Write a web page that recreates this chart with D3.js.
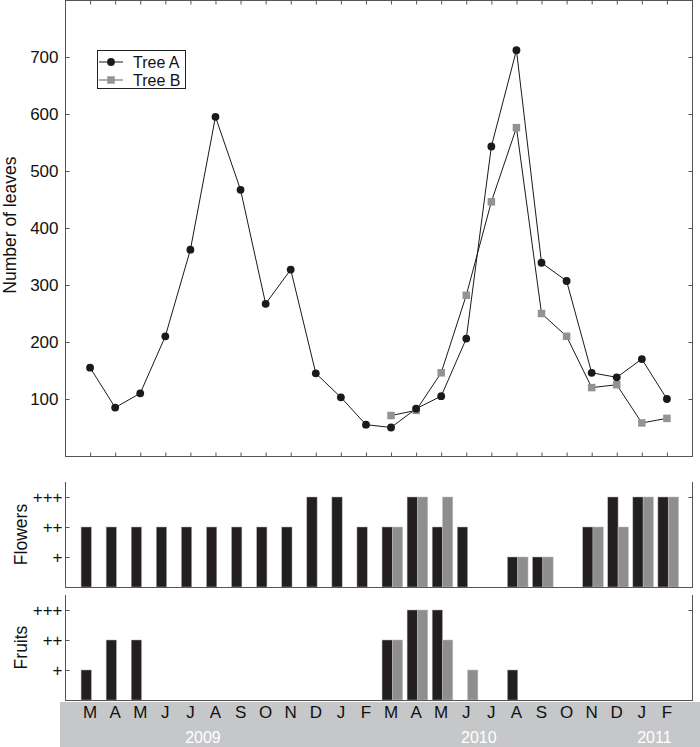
<!DOCTYPE html>
<html>
<head>
<meta charset="utf-8">
<script src="https://cdn.jsdelivr.net/npm/d3@7"></script>
<style>
html,body{margin:0;padding:0;background:#fff;}
svg{display:block;font-family:"Liberation Sans",Arial,Helvetica,sans-serif;}
</style>
</head>
<body>
<svg id="chart" width="700" height="747"></svg>
<script>
// ---- data ----
const months = ["M","A","M","J","J","A","S","O","N","D","J","F","M","A","M","J","J","A","S","O","N","D","J","F"];
const years = [
  {label:"2009", first:0, last:9},
  {label:"2010", first:10, last:21},
  {label:"2011", first:22, last:23}
];
const leavesA = [155,85,110,210,362,595,467,267,327,145,103,55,50,83,105,206,543,712,339,307,146,138,170,100];
const leavesB = [null,null,null,null,null,null,null,null,null,null,null,null,71,80,146,282,446,576,250,210,120,125,58,66];
const flowersA = [2,2,2,2,2,2,2,2,2,3,3,2,2,3,2,2,0,1,1,0,2,3,3,3];
const flowersB = [null,null,null,null,null,null,null,null,null,null,null,null,2,3,3,0,0,1,1,0,2,2,3,3];
const fruitsA = [1,2,2,0,0,0,0,0,0,0,0,0,2,3,3,0,0,1,0,0,0,0,0,0];
const fruitsB = [null,null,null,null,null,null,null,null,null,null,null,null,2,3,2,1,0,0,0,0,0,0,0,0];
const leafTicks = [100,200,300,400,500,600,700];
const levelTicks = [1,2,3];
const levelLabels = ["+","++","+++"];

// ---- layout ----
const svg = d3.select("#chart");
const L = 65, R = 692;
const axisCol = "#555";
const fs = 17;
const x = d3.scalePoint().domain(d3.range(months.length)).range([L, R]).padding(1);

// Top panel
const yTop = d3.scaleLinear().domain([0, 800]).range([456, 0]);
const gTop = svg.append("g");

gTop.append("line").attr("x1",L).attr("x2",R).attr("y1",0.5).attr("y2",0.5).attr("stroke",axisCol);
gTop.append("line").attr("x1",L).attr("x2",R).attr("y1",456.5).attr("y2",456.5).attr("stroke",axisCol);
gTop.append("line").attr("x1",L+0.5).attr("x2",L+0.5).attr("y1",0).attr("y2",457).attr("stroke",axisCol);
gTop.append("line").attr("x1",R+0.5).attr("x2",R+0.5).attr("y1",0).attr("y2",457).attr("stroke",axisCol);

const yAxisL = d3.axisLeft(yTop).tickValues(leafTicks).tickSizeInner(-4).tickSizeOuter(0).tickPadding(7);
const gyl = gTop.append("g").attr("transform",`translate(${L+0.5},0)`).call(yAxisL);
gyl.select(".domain").remove();
gyl.selectAll("line").attr("stroke",axisCol);
gyl.selectAll("text").attr("font-size",fs).attr("fill","#111").attr("font-family","Liberation Sans, Arial, sans-serif");

const yAxisR = d3.axisRight(yTop).tickValues(leafTicks).tickSizeInner(-4).tickSizeOuter(0).tickFormat("");
const gyr = gTop.append("g").attr("transform",`translate(${R+0.5},0)`).call(yAxisR);
gyr.select(".domain").remove();
gyr.selectAll("line").attr("stroke",axisCol);

const xAxisB = d3.axisBottom(x).tickSizeInner(-4).tickSizeOuter(0).tickFormat("");
const gxb = gTop.append("g").attr("transform",`translate(0,456.5)`).call(xAxisB);
gxb.select(".domain").remove();
gxb.selectAll("line").attr("stroke",axisCol);
const xAxisT = d3.axisTop(x).tickSizeInner(-4).tickSizeOuter(0).tickFormat("");
const gxt = gTop.append("g").attr("transform",`translate(0,0.5)`).call(xAxisT);
gxt.select(".domain").remove();
gxt.selectAll("line").attr("stroke",axisCol);

gTop.append("text").attr("transform",`translate(16,${yTop(405)}) rotate(-90)`)
  .attr("text-anchor","middle").attr("font-size",17.5).attr("fill","#111").text("Number of leaves");

const line = d3.line().defined(d => d.v != null).x(d => x(d.i)).y(d => yTop(d.v));
const dA = leavesA.map((v,i)=>({i,v}));
const dB = leavesB.map((v,i)=>({i,v}));
gTop.append("path").datum(dB).attr("d",line).attr("fill","none").attr("stroke","#1a1a1a").attr("stroke-width",1);
gTop.append("path").datum(dA).attr("d",line).attr("fill","none").attr("stroke","#1a1a1a").attr("stroke-width",1);
const sq = 7.5;
gTop.selectAll("rect.b").data(dB.filter(d=>d.v!=null)).join("rect").attr("class","b")
  .attr("x",d=>x(d.i)-sq/2).attr("y",d=>yTop(d.v)-sq/2).attr("width",sq).attr("height",sq).attr("fill","#939393");
gTop.selectAll("circle.a").data(dA).join("circle").attr("class","a")
  .attr("cx",d=>x(d.i)).attr("cy",d=>yTop(d.v)).attr("r",3.9).attr("fill","#1a1a1a");

// legend
const lg = gTop.append("g");
lg.append("rect").attr("x",97.5).attr("y",50.5).attr("width",88).attr("height",38).attr("fill","#fff").attr("stroke","#222");
lg.append("line").attr("x1",99).attr("x2",123).attr("y1",62).attr("y2",62).attr("stroke","#1a1a1a");
lg.append("circle").attr("cx",111).attr("cy",62).attr("r",3.9).attr("fill","#1a1a1a");
lg.append("text").attr("x",133).attr("y",67.5).attr("font-size",16).attr("fill","#111").text("Tree A");
lg.append("line").attr("x1",99).attr("x2",123).attr("y1",80).attr("y2",80).attr("stroke","#939393").attr("stroke-width",1.5);
lg.append("rect").attr("x",111-sq/2).attr("y",80-sq/2).attr("width",sq).attr("height",sq).attr("fill","#939393");
lg.append("text").attr("x",133).attr("y",85.5).attr("font-size",16).attr("fill","#111").text("Tree B");

// bar panels
const barW = 10.3;
function barPanel(y0, y1, title, dataA, dataB) {
  const y = d3.scaleLinear().domain([0, 3.5]).range([y1, y0]);
  const g = svg.append("g");
  g.append("line").attr("x1",L+0.5).attr("x2",L+0.5).attr("y1",y0).attr("y2",y1+0.5).attr("stroke",axisCol);
  g.append("line").attr("x1",R+0.5).attr("x2",R+0.5).attr("y1",y0).attr("y2",y1+0.5).attr("stroke",axisCol);
  const ya = d3.axisLeft(y).tickValues(levelTicks).tickFormat((d,i)=>levelLabels[i]).tickSizeInner(-4).tickSizeOuter(0).tickPadding(3);
  const gy = g.append("g").attr("transform",`translate(${L+0.5},0)`).call(ya);
  gy.select(".domain").remove();
  gy.selectAll("line").attr("stroke",axisCol);
  gy.selectAll("text").attr("font-size",fs).attr("fill","#111").attr("font-family","Liberation Sans, Arial, sans-serif");
  const yr = d3.axisRight(y).tickValues([3]).tickFormat("").tickSizeInner(-4).tickSizeOuter(0);
  const gr = g.append("g").attr("transform",`translate(${R+0.5},0)`).call(yr);
  gr.select(".domain").remove();
  gr.selectAll("line").attr("stroke",axisCol);
  const a = dataA.map((v,i)=>({i,v})).filter(d=>d.v);
  const b = dataB.map((v,i)=>({i,v})).filter(d=>d.v);
  g.selectAll("rect.ba").data(a).join("rect").attr("class","ba")
    .attr("x",d=>x(d.i)-9).attr("width",barW).attr("y",d=>y(d.v)).attr("height",d=>y(0)-y(d.v))
    .attr("fill","#231f20").attr("stroke","#b0b0b0").attr("stroke-width",0.5);
  g.selectAll("rect.bb").data(b).join("rect").attr("class","bb")
    .attr("x",d=>x(d.i)+1.3).attr("width",barW).attr("y",d=>y(d.v)).attr("height",d=>y(0)-y(d.v))
    .attr("fill","#8e8e90").attr("stroke","#c0c0c0").attr("stroke-width",0.5);
  g.append("line").attr("x1",L).attr("x2",R+1).attr("y1",y1+0.5).attr("y2",y1+0.5).attr("stroke",axisCol);
  g.append("text").attr("transform",`translate(27,${(y0+y1)/2}) rotate(-90)`)
    .attr("text-anchor","middle").attr("font-size",17.5).attr("fill","#111").text(title);
}
barPanel(482, 587, "Flowers", flowersA, flowersB);
barPanel(595, 700, "Fruits", fruitsA, fruitsB);

// month band
svg.append("rect").attr("x",60).attr("y",702).attr("width",640).attr("height",45).attr("fill","#c6c7c9");
svg.selectAll("text.m").data(months).join("text").attr("class","m")
  .attr("x",(d,i)=>x(i)).attr("y",718).attr("text-anchor","middle")
  .attr("font-size",fs).attr("fill","#111").text(d=>d);
svg.selectAll("text.yr").data(years).join("text").attr("class","yr")
  .attr("x",d=>(x(d.first)+x(d.last))/2).attr("y",742.5).attr("text-anchor","middle")
  .attr("font-size",16).attr("fill","#fff").text(d=>d.label);
</script>
</body>
</html>
